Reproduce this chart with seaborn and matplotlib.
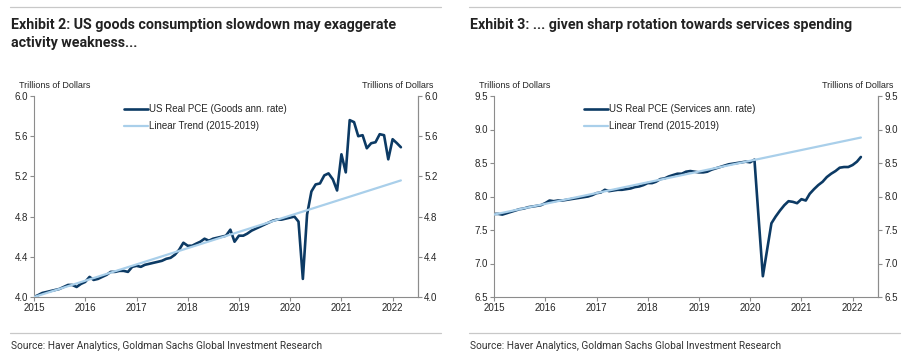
import pandas as pd
import numpy as np
import matplotlib
matplotlib.use("Agg")
import matplotlib.pyplot as plt
import matplotlib.dates as mdates
from matplotlib.lines import Line2D
import seaborn as sns

# Monthly data, Jan 2015 - Mar 2022 (trillions of dollars, annual rate)
dates = pd.date_range("2015-01-01", periods=87, freq="MS")

goods = [
    4.00, 4.02, 4.04, 4.05, 4.06, 4.07, 4.08, 4.10, 4.12, 4.12, 4.10, 4.13,
    4.15, 4.20, 4.17, 4.18, 4.20, 4.22, 4.25, 4.25, 4.26, 4.26, 4.25, 4.30,
    4.31, 4.30, 4.32, 4.33, 4.34, 4.35, 4.36, 4.38, 4.39, 4.42, 4.47, 4.54,
    4.51, 4.51, 4.53, 4.55, 4.58, 4.56, 4.58, 4.59, 4.60, 4.61, 4.67, 4.55,
    4.61, 4.61, 4.63, 4.66, 4.68, 4.70, 4.72, 4.74, 4.76, 4.77, 4.77, 4.78,
    4.79, 4.80, 4.75, 4.18, 4.82, 5.05, 5.12, 5.13, 5.21, 5.23, 5.17, 5.06,
    5.42, 5.24, 5.76, 5.74, 5.60, 5.61, 5.48, 5.53, 5.54, 5.62, 5.61, 5.37,
    5.57, 5.53, 5.49,
]

services = [
    7.74, 7.74, 7.73, 7.75, 7.77, 7.79, 7.81, 7.82, 7.84, 7.85, 7.86, 7.87,
    7.90, 7.94, 7.93, 7.94, 7.94, 7.95, 7.96, 7.97, 7.98, 7.99, 8.00, 8.02,
    8.05, 8.06, 8.10, 8.08, 8.09, 8.10, 8.10, 8.11, 8.12, 8.14, 8.15, 8.17,
    8.20, 8.20, 8.22, 8.26, 8.27, 8.30, 8.32, 8.34, 8.34, 8.37, 8.38, 8.37,
    8.36, 8.36, 8.37, 8.40, 8.42, 8.44, 8.46, 8.48, 8.49, 8.50, 8.51, 8.52,
    8.51, 8.55, 7.70, 6.81, 7.20, 7.60, 7.70, 7.79, 7.87, 7.93, 7.92, 7.90,
    7.96, 7.94, 8.04, 8.11, 8.17, 8.22, 8.29, 8.34, 8.38, 8.43, 8.44, 8.44,
    8.47, 8.52, 8.59,
]

# Linear trend (2015-2019), end points
trend_dates = pd.to_datetime(["2015-01-01", "2022-03-01"])
goods_trend = [4.00, 5.16]
services_trend = [7.73, 8.88]

goods_ticks = [4.0, 4.4, 4.8, 5.2, 5.6, 6.0]
services_ticks = [6.5, 7.0, 7.5, 8.0, 8.5, 9.0, 9.5]

titles = [
    "Exhibit 2: US goods consumption slowdown may exaggerate\nactivity weakness...",
    "Exhibit 3: ... given sharp rotation towards services spending",
]
series_labels = ["US Real PCE (Goods ann. rate)", "US Real PCE (Services ann. rate)"]
trend_label = "Linear Trend (2015-2019)"
source = "Source: Haver Analytics, Goldman Sachs Global Investment Research"

DARK = "#0c3a64"
LIGHT = "#a9cfea"
GREY = "#8c8c8c"

sns.set_style("white")
plt.rcParams["font.family"] = ["Liberation Sans", "DejaVu Sans"]
narrow = ["Roboto", "DejaVu Sans"]

fig = plt.figure(figsize=(9.19, 3.62), dpi=100)

panels = [
    (34, goods, goods_trend, goods_ticks, series_labels[0], titles[0], 11),
    (494, services, services_trend, services_ticks, series_labels[1], titles[1], 470),
]

W, H = 919, 362
for left_px, vals, trend, ticks, lab, title, tx in panels:
    ax = fig.add_axes([left_px / W, (H - 297) / H, 384 / W, 201 / H])
    df = pd.DataFrame({"date": dates, "value": vals})
    tdf = pd.DataFrame({"date": trend_dates, "value": trend})
    sns.lineplot(data=df, x="date", y="value", ax=ax, color=DARK, lw=1.9,
                 label=lab, zorder=2)
    sns.lineplot(data=tdf, x="date", y="value", ax=ax, color=LIGHT, lw=1.6,
                 label=trend_label, zorder=3)
    ax.set_xlim(pd.Timestamp("2015-01-01"), pd.Timestamp("2022-07-01"))
    ax.set_ylim(ticks[0], ticks[-1])
    ax.set_yticks(ticks)
    ax.set_yticklabels([f"{t:.1f}" for t in ticks])
    ax.xaxis.set_major_locator(mdates.YearLocator())
    ax.xaxis.set_major_formatter(mdates.DateFormatter("%Y"))
    ax.set_xlabel("")
    ax.set_ylabel("")
    for side in ["left", "right", "bottom"]:
        ax.spines[side].set_color(GREY)
        ax.spines[side].set_linewidth(0.8)
    ax.spines["top"].set_visible(False)
    ax.tick_params(axis="both", which="both", direction="out", length=3,
                   width=0.8, color=GREY, labelsize=7, pad=1.5,
                   left=True, bottom=True)
    ax2 = ax.twinx()
    ax2.set_ylim(ax.get_ylim())
    ax2.set_yticks(ticks)
    ax2.set_yticklabels([f"{t:.1f}" for t in ticks])
    for side in ["left", "top", "bottom"]:
        ax2.spines[side].set_visible(False)
    ax2.spines["right"].set_color(GREY)
    ax2.spines["right"].set_linewidth(0.8)
    ax2.tick_params(axis="y", direction="out", length=3, width=0.8, color=GREY,
                    labelsize=7, pad=1.5, right=True)

    leg = ax.legend(loc="upper left", bbox_to_anchor=(0.225, 0.98), frameon=False,
                    fontsize=7, handlelength=2.4, handletextpad=0.1,
                    labelspacing=0.75, borderaxespad=0)

    ax.text(-0.04, 1.03, "Trillions of Dollars", transform=ax.transAxes,
            fontsize=6.5, ha="left", va="bottom")
    ax.text(1.04, 1.03, "Trillions of Dollars", transform=ax.transAxes,
            fontsize=6.5, ha="right", va="bottom")

    fig.text(tx / W, 1 - 18 / H, title, fontsize=10.3, fontweight="bold",
             family=narrow, ha="left", va="top", linespacing=1.35, color="#222222")
    fig.text(tx / W, 1 - 346 / H, source, fontsize=7.3, family=narrow,
             ha="left", va="center", color="#333333")
    fig.add_artist(Line2D([(tx - 1) / W, (tx + 430) / W], [1 - 7 / H, 1 - 7 / H],
                          transform=fig.transFigure, color="#c8c8c8", lw=0.9))
    fig.add_artist(Line2D([(tx - 1) / W, (tx + 430) / W], [1 - 333 / H, 1 - 333 / H],
                          transform=fig.transFigure, color="#c8c8c8", lw=0.9))

fig.savefig("out.png", dpi=100, facecolor="white")
plt.close()
